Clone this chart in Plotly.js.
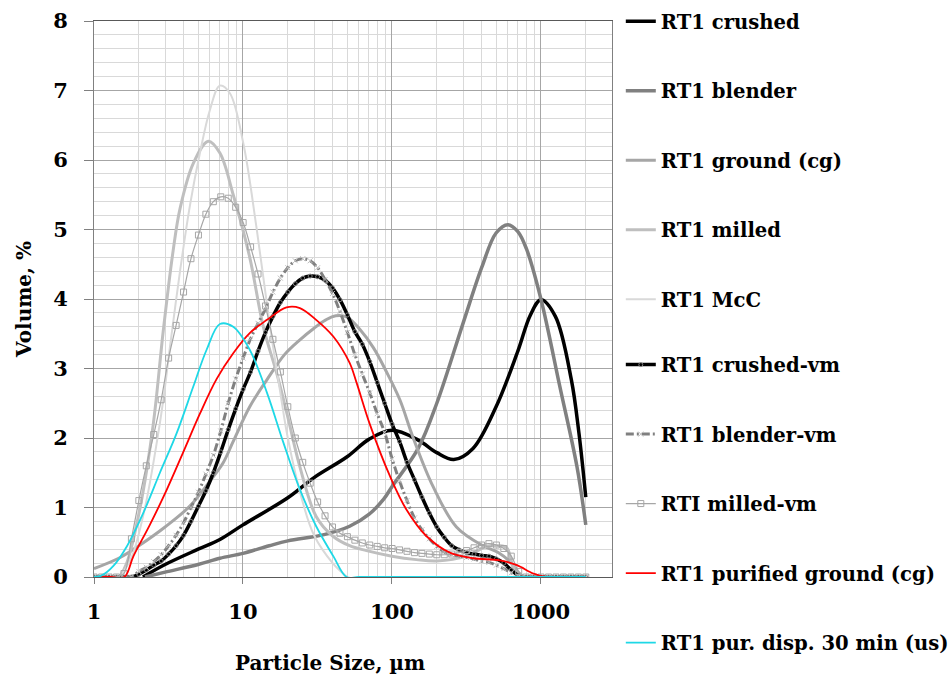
<!DOCTYPE html>
<html>
<head>
<meta charset="utf-8">
<script src="https://cdn.plot.ly/plotly-3.0.1.min.js"></script>
<style>
html,body{margin:0;padding:0;background:#fff;}
#chart{width:949px;height:679px;}
</style>
</head>
<body>
<div id="chart"></div>
<script>
// ---- data ----
const crushedX = [2.13, 3, 5, 7, 10, 20, 30, 50, 70, 100, 150, 200, 260, 350, 500, 700, 850, 1000, 1250, 1600, 1800, 2000];
const crushedY = [0, 0.18, 0.40, 0.54, 0.75, 1.14, 1.43, 1.73, 1.98, 2.11, 1.97, 1.79, 1.69, 1.85, 2.45, 3.25, 3.77, 3.99, 3.75, 2.84, 2.07, 1.15];

const blenderX = [2.2, 3, 5, 7, 10, 15, 20, 35, 52, 70, 88, 100, 150, 200, 300, 400, 500, 600, 700, 800, 1000, 1340, 1745, 2000];
const blenderY = [0, 0.07, 0.18, 0.27, 0.34, 0.45, 0.52, 0.61, 0.73, 0.9, 1.12, 1.3, 1.85, 2.5, 3.65, 4.45, 4.95, 5.07, 4.97, 4.72, 4.0, 2.74, 1.59, 0.75];

const groundX = [1, 1.5, 2, 3, 4.4, 6, 7.35, 8.6, 11.1, 14.5, 19, 24, 30, 36, 42, 50, 61, 75, 92, 113, 139, 189, 271, 408, 520, 620, 700, 780];
const groundY = [0.12, 0.28, 0.45, 0.72, 1.02, 1.38, 1.64, 1.95, 2.45, 2.84, 3.2, 3.41, 3.58, 3.7, 3.76, 3.74, 3.56, 3.3, 2.95, 2.55, 2.0, 1.3, 0.72, 0.45, 0.35, 0.22, 0.06, 0];

const milledX = [1.49, 1.66, 2.04, 2.5, 2.92, 3.4, 3.78, 4.64, 5.85, 7.0, 8.6, 11.1, 13.7, 17, 20, 24, 31, 40, 52, 67.5, 100, 146, 200, 317, 433, 520, 590, 650, 720];
const milledY = [0, 0.2, 1.0, 2.2, 3.55, 4.7, 5.3, 5.95, 6.27, 6.1, 5.5, 4.6, 3.6, 2.9, 2.3, 1.6, 0.87, 0.59, 0.45, 0.38, 0.3, 0.25, 0.23, 0.3, 0.44, 0.45, 0.42, 0.15, 0];

const mccX = [1.5, 1.8, 2.2, 2.6, 2.92, 3.23, 3.78, 4.41, 5.14, 6.0, 7.0, 8.17, 10.05, 12.3, 15.2, 17.7, 20, 25, 30, 40, 50];
const mccY = [0, 0.3, 1.0, 1.85, 2.55, 3.3, 4.4, 5.35, 6.1, 6.72, 7.07, 6.96, 6.24, 5.04, 3.6, 2.69, 2.0, 1.1, 0.6, 0.2, 0];

// instrument size classes used by the "-vm" series
const sizeClasses = [1.002, 1.125, 1.262, 1.416, 1.589, 1.783, 2.000, 2.244, 2.518, 2.825, 3.170, 3.557, 3.991, 4.477, 5.024, 5.637, 6.325, 7.096, 7.962, 8.934, 10.024, 11.247, 12.619, 14.159, 15.887, 17.825, 20.000, 22.440, 25.179, 28.251, 31.698, 35.566, 39.905, 44.774, 50.238, 56.368, 63.246, 70.963, 79.621, 89.337, 100.237, 112.468, 126.191, 141.589, 158.866, 178.250, 200.000, 224.404, 251.785, 282.508, 316.979, 355.656, 399.052, 447.744, 502.377, 563.677, 632.456, 709.627, 796.214, 893.367, 1002.374, 1124.683, 1261.915, 1415.892, 1588.656, 1782.502, 2000.000];

const crushedVmY = [0, 0, 0, 0, 0, 0, 0.04, 0.1, 0.17, 0.23, 0.33, 0.45, 0.6, 0.8, 1.02, 1.24, 1.5, 1.8, 2.12, 2.42, 2.7, 2.95, 3.25, 3.52, 3.75, 3.95, 4.1, 4.22, 4.3, 4.33, 4.32, 4.27, 4.16, 3.99, 3.77, 3.53, 3.35, 3.1, 2.8, 2.5, 2.2, 1.95, 1.65, 1.4, 1.15, 0.92, 0.72, 0.57, 0.45, 0.39, 0.35, 0.33, 0.31, 0.3, 0.26, 0.2, 0.1, 0.02, 0, 0, 0, 0, 0, 0, 0, 0, 0];

const blenderVmY = [0, 0, 0, 0, 0, 0, 0.08, 0.14, 0.22, 0.32, 0.45, 0.6, 0.78, 1.0, 1.22, 1.48, 1.75, 2.1, 2.5, 2.85, 3.15, 3.43, 3.65, 3.86, 4.1, 4.3, 4.45, 4.55, 4.58, 4.55, 4.45, 4.28, 4.08, 3.82, 3.52, 3.2, 2.92, 2.65, 2.35, 2.08, 1.7, 1.38, 1.1, 0.85, 0.68, 0.55, 0.44, 0.36, 0.32, 0.3, 0.28, 0.26, 0.23, 0.21, 0.17, 0.12, 0.06, 0.01, 0, 0, 0, 0, 0, 0, 0, 0, 0];

const milledVmY = [0, 0, 0, 0, 0.05, 0.55, 1.1, 1.6, 2.05, 2.55, 3.15, 3.62, 4.1, 4.58, 4.92, 5.22, 5.4, 5.47, 5.45, 5.32, 5.1, 4.75, 4.36, 3.9, 3.42, 2.95, 2.45, 2.0, 1.65, 1.35, 1.08, 0.88, 0.72, 0.63, 0.58, 0.53, 0.49, 0.46, 0.44, 0.42, 0.41, 0.39, 0.37, 0.35, 0.34, 0.33, 0.32, 0.32, 0.33, 0.35, 0.38, 0.42, 0.46, 0.48, 0.46, 0.41, 0.3, 0.08, 0, 0, 0, 0, 0, 0, 0, 0, 0];

const purGroundX = [1, 1.3, 1.6, 1.84, 2.37, 3.07, 3.98, 5.14, 6.66, 8.6, 11.1, 14.5, 19.6, 24.1, 31, 40.4, 52, 57.8, 71, 97, 125, 170, 245, 350, 530, 690, 890, 1090, 1300];
const purGroundY = [0, 0, 0, 0.3, 0.75, 1.25, 1.8, 2.35, 2.85, 3.22, 3.51, 3.7, 3.88, 3.87, 3.7, 3.46, 3.08, 2.8, 2.2, 1.45, 0.97, 0.59, 0.35, 0.27, 0.24, 0.17, 0.05, 0, 0];

const purDispX = [1, 1.12, 1.35, 1.66, 2.14, 2.77, 3.59, 4.64, 5.7, 7.0, 8.6, 11.1, 14.5, 18.7, 24.1, 31, 40.4, 49.6, 60, 200, 2000];
const purDispY = [0, 0.02, 0.16, 0.44, 0.92, 1.5, 2.07, 2.74, 3.27, 3.64, 3.6, 3.27, 2.65, 1.93, 1.26, 0.73, 0.3, 0, 0, 0, 0];

const seriesNames = ['RT1 crushed', 'RT1 blender', 'RT1 ground (cg)', 'RT1 milled', 'RT1 McC', 'RT1 crushed-vm', 'RT1 blender-vm', 'RTI milled-vm', 'RT1 purified ground (cg)', 'RT1 pur. disp. 30 min (us)'];

const xTickVals = [1, 10, 100, 1000];
const xTickText = ['1', '10', '100', '1000'];
const xMinorVals = [2,3,4,5,6,7,8,9,20,30,40,50,60,70,80,90,200,300,400,500,600,700,800,900,2000,3000];

// ---- traces ----
function tr(i, x, y, line, marker) {
  const t = {
    type: 'scatter', x: x, y: y, name: seriesNames[i],
    legendgroup: 'g' + i,
    legend: i < 5 ? 'legend' : 'legend2',
    mode: marker ? 'lines+markers' : 'lines',
    line: Object.assign({shape: 'spline', smoothing: 1}, line)
  };
  if (marker) t.marker = marker;
  return t;
}

const data = [
  tr(0, crushedX, crushedY, {color: '#000000', width: 3.5}),
  tr(1, blenderX, blenderY, {color: '#808080', width: 3.5}),
  tr(2, groundX, groundY, {color: '#a6a6a6', width: 3}),
  tr(3, milledX, milledY, {color: '#bfbfbf', width: 3}),
  tr(4, mccX, mccY, {color: '#d9d9d9', width: 2}),
  tr(5, sizeClasses, crushedVmY, {color: '#000000', width: 3.5},
     {symbol: 'circle-open', size: 4, color: '#7f7f7f', line: {width: 1, color: '#7f7f7f'}}),
  tr(6, sizeClasses, blenderVmY, {color: '#808080', width: 3, dash: '8px,3px,2px,3px'},
     {symbol: 'x-thin-open', size: 5, color: '#bfbfbf', line: {width: 1, color: '#bfbfbf'}}),
  tr(7, sizeClasses, milledVmY, {color: '#a6a6a6', width: 1.2},
     {symbol: 'square-open', size: 6, color: '#a6a6a6', line: {width: 1, color: '#a6a6a6'}}),
  tr(8, purGroundX, purGroundY, {color: '#ff0000', width: 1.8}),
  tr(9, purDispX, purDispY, {color: '#1ed8e6', width: 1.8})
];

const serif = 'DejaVu Serif, Liberation Serif, serif';
const legendFont = {family: serif, size: 19.6, color: '#000000', weight: 'bold'};

const layout = {
  width: 949, height: 679,
  margin: {l: 94, r: 337, t: 21, b: 101.5, pad: 0, autoexpand: false},
  paper_bgcolor: '#ffffff', plot_bgcolor: '#ffffff',
  showlegend: true,
  font: {family: serif, color: '#000000'},
  xaxis: {
    type: 'log', range: [0, Math.log10(3000)],
    tickmode: 'array', tickvals: xTickVals, ticktext: xTickText,
    ticks: 'outside', ticklen: 6, tickcolor: '#808080',
    showgrid: true, gridcolor: '#a6a6a6', gridwidth: 1,
    minor: {tickmode: 'array', tickvals: xMinorVals, showgrid: true, gridcolor: '#d9d9d9', gridwidth: 1, ticks: ''},
    showline: true, linecolor: '#595959', linewidth: 1, mirror: true,
    tickfont: {family: serif, size: 21, color: '#000000', weight: 'bold'},
    ticklabelstandoff: 10,
    zeroline: false
  },
  yaxis: {
    range: [0, 8], dtick: 1, tick0: 0,
    ticks: 'outside', ticklen: 9, tickcolor: '#808080',
    showgrid: true, gridcolor: '#a6a6a6', gridwidth: 1,
    minor: {dtick: 0.2, showgrid: true, gridcolor: '#d9d9d9', gridwidth: 1, ticks: ''},
    showline: true, linecolor: '#808080', linewidth: 1, mirror: true,
    tickfont: {family: serif, size: 21, color: '#000000', weight: 'bold'},
    ticklabelstandoff: 12,
    zeroline: false,
    title: {text: 'Volume, %', font: {family: serif, size: 20, color: '#000000', weight: 'bold'}, standoff: 16}
  },
  legend: {
    x: 1.017, y: 1.034, xanchor: 'left', yanchor: 'top',
    traceorder: 'grouped', tracegroupgap: 41,
    font: legendFont, bgcolor: 'rgba(0,0,0,0)', itemwidth: 30
  },
  legend2: {
    x: 1.017, y: 0.4166, xanchor: 'left', yanchor: 'top',
    traceorder: 'grouped', tracegroupgap: 41,
    font: legendFont, bgcolor: 'rgba(0,0,0,0)', itemwidth: 30
  },
  annotations: [{
    text: 'Particle Size, µm', xref: 'paper', yref: 'paper',
    x: (330 - 94) / 518, y: -0.155, xanchor: 'center', yanchor: 'middle',
    showarrow: false,
    font: {family: serif, size: 20, color: '#000000', weight: 'bold'}
  }]
};

Plotly.newPlot('chart', data, layout, {displayModeBar: false, staticPlot: true});
</script>
</body>
</html>
